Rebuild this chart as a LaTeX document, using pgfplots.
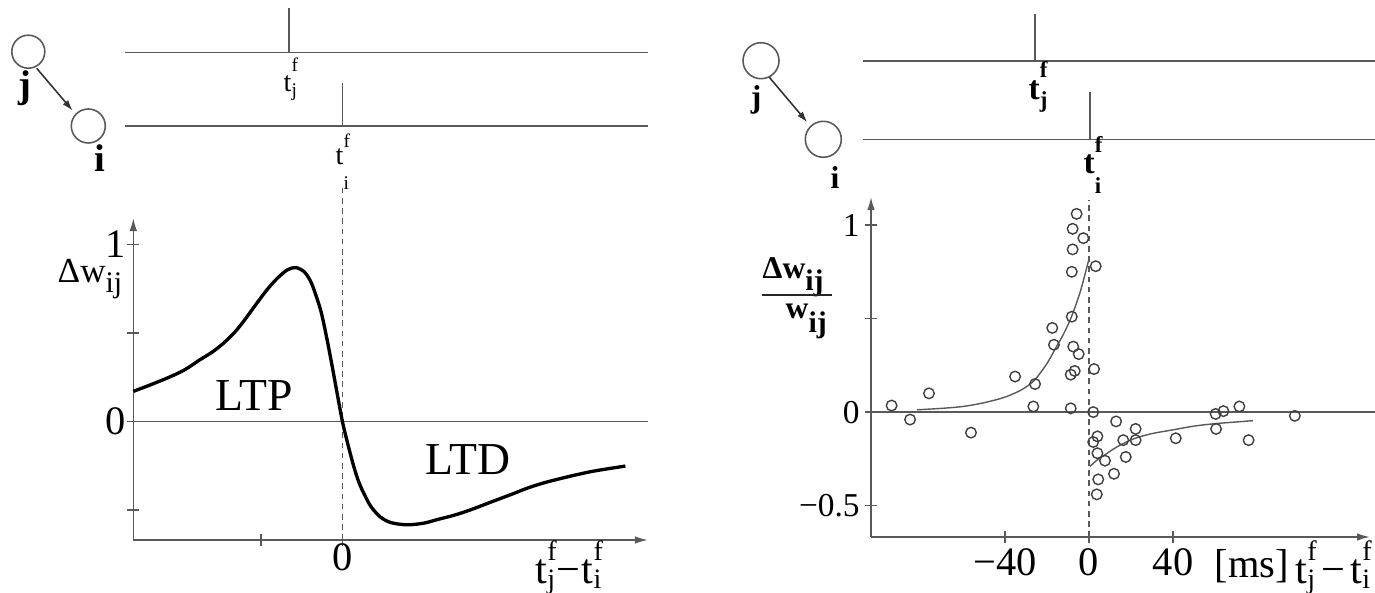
\documentclass[border=0pt]{standalone}
\usepackage{fontspec}
\setmainfont{Liberation Serif}
\usepackage{pgfplots}
\pgfplotsset{compat=1.18}
\usetikzlibrary{arrows.meta}

\definecolor{axisgray}{gray}{0.35}
\definecolor{markgray}{gray}{0.25}
\definecolor{fitgray}{gray}{0.35}

% spike-time label t with superscript f and a lowered subscript
% #1 size of t, #2 script size, #3 raise of f, #4 drop of subscript, #5 subscript letter
\newcommand\spk[5]{{\fontsize{#1}{#1}\selectfont t}\rlap{\raisebox{#3}{\fontsize{#2}{#2}\selectfont f}}\raisebox{-#4}{\fontsize{#2}{#2}\selectfont #5}}

\pgfplotsset{
  stdpaxis/.style={
    scale only axis, anchor=south west, clip=false,
    axis lines=left,
    axis line style={draw=axisgray, line width=0.45pt, -{Latex[length=0.13cm,width=0.075cm]}},
    tick align=center, major tick length=0.12cm,
    tick style={draw=axisgray, line width=0.45pt},
  }
}

\begin{document}
\begin{tikzpicture}
%% ---------- left: schematic learning window ----------
\begin{axis}[stdpaxis,
  at={(1.333cm,-5.40cm)}, width=5.146cm, height=3.22cm,
  xmin=-103, xmax=150.5, ymin=-0.67, ymax=1.15,
  xtick={-40,0}, xticklabels={,0},
  ytick={-0.5,0,0.5,1}, yticklabels={,0,,1},
  tick label style={font=\fontsize{11.5}{12}\selectfont},
  x tick label style={yshift=4.3pt},
  y tick label style={xshift=3pt},
]
\draw[axisgray, line width=0.4pt] (axis cs:-103,0) -- (axis cs:150.5,0);
\draw[axisgray, line width=0.4pt, dash pattern=on 1.6pt off 1.3pt] (axis cs:0,-0.67) -- (axis cs:0,1.33);
\addplot[black, line width=0.95pt, smooth, tension=0.5] coordinates {
(-103,0.17) (-95,0.205) (-86.4,0.245) (-78,0.29) (-70,0.35) (-64,0.393)
(-58.5,0.443) (-53,0.505) (-48.6,0.567) (-43,0.655) (-37.1,0.745) (-32,0.81)
(-27.1,0.857) (-23,0.87) (-18.9,0.847) (-16,0.80) (-14,0.745) (-10.5,0.62)
(-7.5,0.46) (-5,0.31) (-2.6,0.16) (0,0) (2.5,-0.12) (5.6,-0.254) (8,-0.34)
(10.5,-0.405) (14,-0.48) (18.7,-0.54) (24,-0.572) (31.9,-0.584) (40,-0.575)
(46.6,-0.555) (55,-0.53) (63,-0.5) (74,-0.452) (84.4,-0.407) (92,-0.373)
(100.8,-0.342) (112,-0.31) (122.2,-0.284) (131,-0.267) (139.4,-0.252)
};
\node[font=\fontsize{13}{14}\selectfont] at (axis cs:-43.5,0.145) {LTP};
\node[font=\fontsize{13}{14}\selectfont] at (axis cs:61.7,-0.216) {LTD};
\end{axis}

%% ---------- right: measured changes with fitted windows ----------
\begin{axis}[stdpaxis,
  at={(8.71cm,-5.37cm)}, width=4.99cm, height=3.40cm,
  xmin=-103.8, xmax=133.8, ymin=-0.668, ymax=1.15,
  xtick={-40,0,40}, xticklabels={−40,0,40},
  ytick={-0.5,0,0.5,1}, yticklabels={−0.5,0,,1},
  x tick label style={font=\fontsize{11.5}{12}\selectfont, yshift=2pt},
  y tick label style={font=\fontsize{9.5}{10}\selectfont, xshift=2pt},
]
\draw[axisgray, line width=0.4pt] (axis cs:-103.8,0) -- (axis cs:140,0);
\draw[axisgray, line width=0.4pt, dash pattern=on 1.6pt off 1.3pt] (axis cs:0,-0.668) -- (axis cs:0,1.134);
\addplot[fitgray, line width=0.4pt, smooth] coordinates {
(-82,0.012) (-70,0.02) (-60,0.03) (-50,0.05) (-40,0.08) (-32,0.12) (-26,0.17)
(-20,0.26) (-16,0.34) (-12,0.42) (-8,0.52) (-4,0.65) (0,0.82)
};
\addplot[fitgray, line width=0.4pt, smooth] coordinates {
(0.5,-0.29) (4,-0.255) (8,-0.225) (12,-0.195) (16,-0.17) (22,-0.14) (30,-0.115)
(40,-0.095) (50,-0.075) (60,-0.062) (70,-0.053) (78,-0.046)
};
\addplot[only marks, mark=o, mark size=1.5pt, mark options={draw=markgray, line width=0.4pt}] coordinates {
(-5.9,1.06) (-7.8,0.98) (-2.7,0.93) (-7.8,0.87) (3.2,0.78) (-8.2,0.75)
(-8.2,0.51) (-17.5,0.45) (-16.7,0.36) (-7.5,0.35) (-4.9,0.31) (-6.8,0.22)
(-8.7,0.20) (2.4,0.23) (-35.2,0.19) (-25.7,0.15) (-76.2,0.10) (-94,0.035)
(-85.2,-0.04) (-56.2,-0.11) (-26.5,0.03) (-8.7,0.02) (2.0,0.0) (12.9,-0.05)
(22.2,-0.09) (4.0,-0.13) (2.0,-0.16) (16.3,-0.15) (22.2,-0.15) (4.0,-0.22)
(7.6,-0.26) (17.5,-0.24) (11.9,-0.33) (4.4,-0.36) (3.7,-0.44) (41.3,-0.14)
(60.3,-0.01) (64,0.005) (71.6,0.03) (60.5,-0.09) (76,-0.15) (98,-0.02)
};
\end{axis}

%% ---------- neuron pair and spike trains, left ----------
\begin{scope}[axisgray, line width=0.45pt]
\draw (0.283,-0.517) circle (0.165);
\draw (0.883,-1.26) circle (0.17);
\draw[black!80, -{Latex[length=0.11cm,width=0.07cm]}] (0.367,-0.683) -- (0.727,-1.107);
\draw (1.25,-0.523) -- (6.48,-0.523);
\draw (2.89,-0.08) -- (2.89,-0.523);
\draw (1.25,-1.26) -- (6.48,-1.26);
\draw (3.423,-0.83) -- (3.423,-1.26);
\end{scope}
\node[font=\bfseries\fontsize{11}{11}\selectfont] at (0.25,-0.88) {j};
\node[font=\bfseries\fontsize{11}{11}\selectfont] at (1.00,-1.58) {i};
\node[anchor=base west, inner sep=0pt] at (2.83,-0.92) {\spk{8}{5.5}{5.7pt}{1.4pt}{j}};
\node[anchor=base west, inner sep=0pt] at (3.35,-1.65) {\spk{8}{5.5}{5.1pt}{7pt}{i}};
\node[anchor=base west, inner sep=0pt, font=\fontsize{10}{10}\selectfont] at (0.57,-2.82) {Δw\raisebox{-3pt}{\fontsize{8.5}{8.5}\selectfont ij}};
\node[anchor=base west, inner sep=0pt] at (5.35,-5.83) {\spk{12}{8}{6.5pt}{1.5pt}{j}\rlap{\fontsize{12}{12}\selectfont\kern0.3pt−}\kern7.6pt\spk{12}{8}{6.5pt}{1.5pt}{i}};

%% ---------- neuron pair and spike trains, right ----------
\begin{scope}[axisgray, line width=0.45pt]
\draw (7.61,-0.607) circle (0.18);
\draw (8.233,-1.393) circle (0.18);
\draw[black!80, -{Latex[length=0.11cm,width=0.07cm]}] (7.693,-0.773) -- (8.073,-1.223);
\draw (8.627,-0.61) -- (13.75,-0.61);
\draw (10.35,-0.14) -- (10.35,-0.61);
\draw (8.627,-1.393) -- (13.75,-1.393);
\draw (10.90,-0.92) -- (10.90,-1.393);
\end{scope}
\node[font=\bfseries\fontsize{9}{9}\selectfont] at (7.56,-1.00) {j};
\node[font=\bfseries\fontsize{9}{9}\selectfont] at (8.35,-1.78) {i};
\node[anchor=base west, inner sep=0pt, font=\bfseries] at (10.28,-1.00) {\spk{9.5}{6.5}{6.3pt}{2pt}{j}};
\node[anchor=base west, inner sep=0pt, font=\bfseries] at (10.83,-1.73) {\spk{9.5}{6.5}{5.7pt}{5.7pt}{i}};
% ratio label: numerator, bar, denominator
\node[anchor=base west, inner sep=0pt, font=\bfseries\fontsize{9}{9}\selectfont] at (7.62,-2.78) {Δw\raisebox{-3.5pt}{\fontsize{8.5}{8.5}\selectfont ij}};
\draw[black!85, line width=0.5pt] (7.62,-2.95) -- (8.32,-2.95);
\node[anchor=base west, inner sep=0pt, font=\bfseries\fontsize{9}{9}\selectfont] at (7.85,-3.18) {w\raisebox{-4pt}{\fontsize{8.5}{8.5}\selectfont ij}};
\node[font=\fontsize{11.5}{12}\selectfont] at (12.52,-5.66) {[ms]};
\node[anchor=base west, inner sep=0pt] at (12.95,-5.83) {\spk{12}{8}{6.5pt}{1.5pt}{j}\,{\fontsize{12}{12}\selectfont −}\,\spk{12}{8}{6.5pt}{1.5pt}{i}};

\pgfresetboundingbox
\useasboundingbox (0,0) rectangle (13.75,-5.92);
\end{tikzpicture}
\end{document}
